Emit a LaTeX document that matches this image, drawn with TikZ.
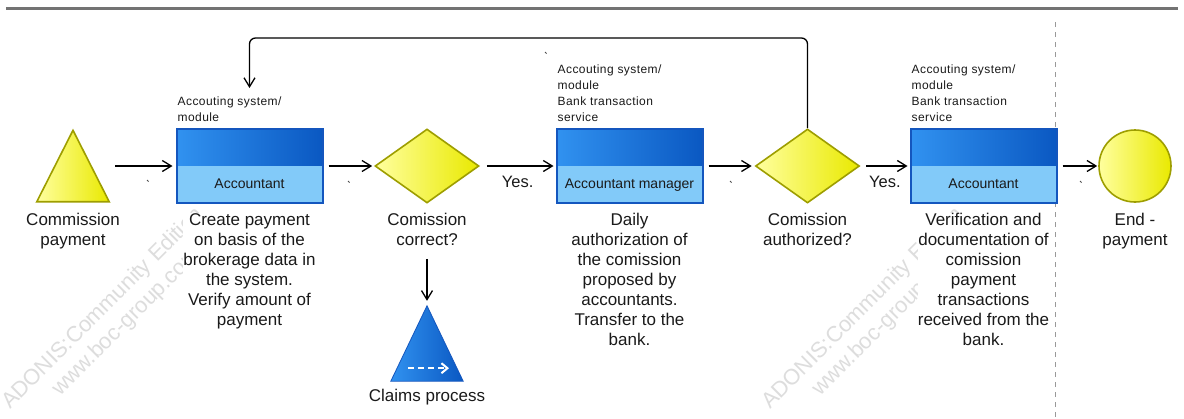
\documentclass[tikz,border=0pt]{standalone}
\usepackage{fontspec}
\setmainfont{Liberation Sans}
\newfontfamily\annotfont[LetterSpace=3.5]{Liberation Sans}
\usetikzlibrary{arrows.meta,shapes.geometric,calc}

\definecolor{yelA}{HTML}{FFFF9E}
\definecolor{yelB}{HTML}{E9E900}
\definecolor{olive}{HTML}{9E9E00}
\definecolor{blueA}{HTML}{3192F0}
\definecolor{blueB}{HTML}{0A58C2}
\definecolor{blueLow}{HTML}{82CAF9}
\definecolor{blueEdge}{HTML}{1456BE}
\definecolor{wmark}{HTML}{DDDDDD}
\definecolor{txt}{HTML}{1A1A1A}

\tikzset{
  conn/.style={line width=1.3pt, black,
    -{Straight Barb[length=9pt,width=11pt,line width=1.3pt]}},
  desc/.style={font=\fontsize{17}{20}\selectfont, text=txt, align=center,
    inner sep=0pt, fill=white, anchor=north},
  annot/.style={font=\annotfont\fontsize{12}{16}\selectfont, text=txt,
    align=left, inner sep=0pt, anchor=south west},
  role/.style={font=\fontsize{14}{16}\selectfont, text=txt, inner sep=0pt,
    anchor=base},
  yeslbl/.style={font=\fontsize{16.5}{18}\selectfont, text=txt, inner sep=0pt,
    anchor=base},
  task/.style={rectangle, minimum width=146pt, minimum height=74pt,
    inner sep=0pt, left color=blueA, right color=blueB, draw=blueEdge,
    line width=2pt,
    path picture={\fill[blueLow] (path picture bounding box.west)
      rectangle (path picture bounding box.south east);}},
  gate/.style={diamond, aspect=1.4, minimum width=104pt, minimum height=74pt,
    inner sep=0pt, left color=yelA, right color=yelB, draw=olive,
    line width=1.6pt},
  endev/.style={circle, minimum size=72pt, inner sep=0pt, left color=yelA,
    right color=yelB, draw=olive, line width=1.6pt},
  trifill/.style={left color=yelA, right color=yelB, draw=olive,
    line width=1.6pt, line join=miter},
  subfill/.style={left color=blueA, right color=blueB, draw=blueEdge,
    line width=0.8pt},
  holder/.style={rectangle, inner sep=0pt},
  wm/.style={font=\fontsize{22}{24}\selectfont, text=wmark, inner sep=0pt,
    anchor=base west, rotate=45},
  tick/.style={line width=0.9pt, black!70},
  dashline/.style={draw=black!40, line width=1pt, dash pattern=on 5pt off 5pt},
}

\begin{document}
\begin{tikzpicture}[x=1pt, y=-1pt]
\useasboundingbox (0,0) rectangle (1184,418);
\fill[white] (0,0) rectangle (1184,418);

% edition watermarks
\node[wm] (wm1a) at (10,410) {ADONIS:Community Edition};
\node[wm] (wm1b) at (60,397) {www.boc-group.com};
\node[wm] (wm2a) at (770,410) {ADONIS:Community Edition};
\node[wm] (wm2b) at (820,397) {www.boc-group.com};

% window frame rule and swimlane separator
\draw[black!55, line width=3pt] (6,8) -- (1178,8);
\draw[dashline] (1055.5,22) -- (1055.5,418);

% reference rows
\coordinate (descrow) at (0,213);

% start event
\node[holder, minimum width=72pt, minimum height=71pt] (start) at (73,166) {};
\draw[trifill] (start.south west) -- (start.north) -- (start.south east) -- cycle;
\node[desc] (startlbl) at (start.south |- descrow) {Commission\\payment};

% activity 1
\node[task] (t1) at (249.5,166) {};
\node[role] (t1role) at ([yshift=16pt]t1.south) {Accountant};
\node[annot] (t1sys) at ([xshift=2pt,yshift=6.5pt]t1.north west)
  {Accouting system/\\module};
\node[desc] (t1lbl) at (t1.south |- descrow)
  {Create payment\\on basis of the\\brokerage data in\\the system.\\Verify amount of\\payment};

% decision 1
\node[gate] (d1) at (427,166) {};
\node[desc] (d1lbl) at (d1.south |- descrow) {Comission\\correct?};

% subprocess
\node[holder, minimum width=72pt, minimum height=75pt] (claims) at (427,343.5) {};
\draw[subfill] (claims.south west) -- (claims.north) -- (claims.south east) -- cycle;
\draw[white, line width=2.4pt, dash pattern=on 6pt off 4pt,
  -{Straight Barb[length=6pt,width=10pt,line width=2pt]}]
  ($(claims.south)+(-19,-13)$) -- ($(claims.south)+(22,-13)$);
\node[desc, anchor=base] (claimslbl) at ([yshift=-20.5pt]claims.south) {Claims process};

% activity 2
\node[task] (t2) at (629.5,166) {};
\node[role] (t2role) at ([yshift=16pt]t2.south) {Accountant manager};
\node[annot] (t2sys) at ([xshift=2pt,yshift=6.5pt]t2.north west)
  {Accouting system/\\module\\Bank transaction\\service};
\node[desc] (t2lbl) at (t2.south |- descrow)
  {Daily\\authorization of\\the comission\\proposed by\\accountants.\\Transfer to the\\bank.};

% decision 2
\node[gate] (d2) at (807.5,166) {};
\node[desc] (d2lbl) at (d2.south |- descrow) {Comission\\authorized?};

% activity 3
\node[task] (t3) at (983.5,166) {};
\node[role] (t3role) at ([yshift=16pt]t3.south) {Accountant};
\node[annot] (t3sys) at ([xshift=2pt,yshift=6.5pt]t3.north west)
  {Accouting system/\\module\\Bank transaction\\service};
\node[desc] (t3lbl) at (t3.south |- descrow)
  {Verification and\\documentation of\\comission\\payment\\transactions\\received from the\\bank.};

% end event
\node[endev] (endc) at (1135,166) {};
\node[desc] (endlbl) at (endc.south |- descrow) {End -\\payment};

% sequence flow
\draw[conn, shorten <=6pt, shorten >=3pt] (start.east) -- (t1.west);
\draw[conn, shorten <=5pt, shorten >=2pt] (t1.east) -- (d1.west);
\draw[conn, shorten <=7pt, shorten >=2pt] (d1.east) -- (t2.west);
\draw[conn, shorten <=5pt, shorten >=3pt] (t2.east) -- (d2.west);
\draw[conn, shorten <=6pt, shorten >=2pt] (d2.east) -- (t3.west);
\draw[conn, shorten <=5pt, shorten >=1pt] (t3.east) -- (endc.west);
\draw[conn, shorten <=13pt, shorten >=5pt] (d1lbl.south) -- (claims.north);

\node[yeslbl] (yes1) at ($(d1.east)!0.5!(t2.west)+(0,21)$) {Yes.};
\node[yeslbl] (yes2) at ($(d2.east)!0.5!(t3.west)+(0,21)$) {Yes.};

% rework loop back to activity 1
\coordinate (looptop) at (249.5,38);
\coordinate (loopend) at (249.5,88);
\draw[conn, rounded corners=6pt] (d2.north) |- (looptop) -- (loopend);

% empty flow-label marks
\draw[tick] (147,180) -- ++(1.5,1.5);
\draw[tick] (348,181) -- ++(1.5,1.5);
\draw[tick] (545,52) -- ++(1.5,1.5);
\draw[tick] (730,181) -- ++(1.5,1.5);
\draw[tick] (1080,181) -- ++(1.5,1.5);
\end{tikzpicture}
\end{document}
